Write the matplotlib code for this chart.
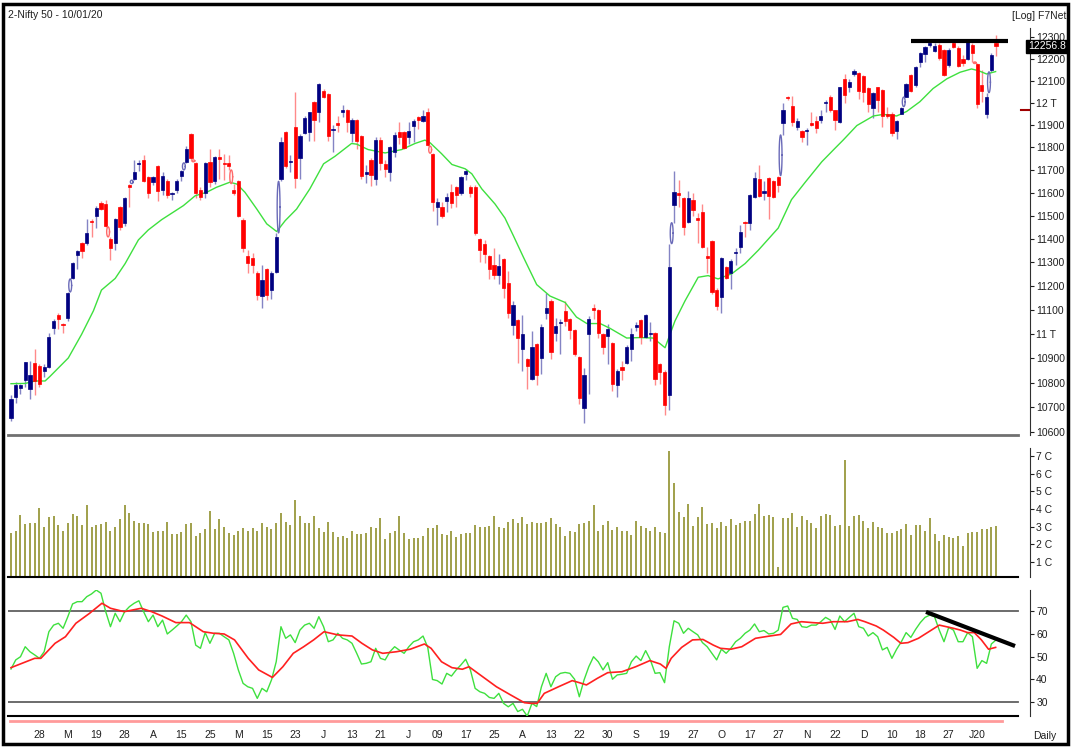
import numpy as np
import matplotlib
matplotlib.use("Agg")
import matplotlib.pyplot as plt
from matplotlib.patches import Rectangle
from matplotlib.ticker import NullLocator

plt.rcParams['font.family'] = ['Liberation Sans', 'DejaVu Sans']

# ---- daily candles, Nifty 50 (Feb 2019 - Jan 2020) ----
opens = [10658,10744,10780,10812,10776,10880,10867,10846,10863,11025,
         11079,11042,11067,11235,11331,11383,11383,11478,11500,11557,
         11552,11400,11383,11539,11470,11636,11660,11726,11744,11670,
         11647,11717,11614,11650,11596,11614,11675,11736,11860,11731,
         11612,11600,11736,11650,11758,11731,11731,11614,11650,11483,
         11326,11317,11257,11157,11274,11183,11261,11660,11870,11736,
         11890,11754,11865,11870,12004,11960,12051,12038,11877,11910,
         11960,11965,11865,11920,11851,11680,11745,11661,11833,11726,
         11689,11777,11870,11870,11847,11896,11937,11919,11960,11770,
         11539,11539,11565,11605,11623,11600,11684,11627,11627,11400,
         11378,11326,11287,11248,11313,11213,11037,11058,10937,10896,
         10817,10958,10900,11088,11137,11004,11046,11096,11063,11017,
         10904,10696,11000,11108,11100,11000,10992,10963,10792,10863,
         10880,10937,11029,11058,10988,11000,11004,10876,10842,10752,
         11546,11600,11578,11474,11570,11491,11518,11326,11391,11183,
         11153,11279,11257,11339,11365,11474,11470,11583,11661,11600,
         11666,11652,11670,11910,12025,11987,11892,11874,11874,11910,
         11919,11924,12000,12025,11965,11914,12105,12069,12130,12134,
         12121,12064,11978,12069,12056,11947,11951,11874,11951,12025,
         12125,12078,12186,12221,12265,12235,12265,12240,12172,12274,
         12250,12200,12198,12262,12175,12079,11950,12150,12272]
highs = [10752,10804,10796,10886,10888,10937,10876,10876,11004,11063,
         11088,11046,11175,11300,11352,11387,11487,11487,11543,11565,
         11570,11409,11491,11543,11583,11640,11744,11745,11767,11675,
         11675,11722,11689,11660,11605,11660,11700,11805,11865,11736,
         11623,11736,11791,11762,11791,11770,11766,11640,11657,11491,
         11352,11339,11265,11287,11278,11265,11426,11845,11874,11766,
         12048,11860,11942,11960,12008,12090,12060,12042,11900,11940,
         11990,11970,11933,11925,11856,11722,11754,11847,11847,11745,
         11805,11870,11914,11874,11914,11928,11942,11965,11978,11774,
         11578,11561,11600,11640,11628,11675,11706,11636,11636,11404,
         11396,11331,11361,11335,11317,11265,11137,11063,11079,10900,
         11012,10963,11042,11171,11145,11067,11063,11137,11067,11021,
         10908,10859,11075,11125,11104,11004,11042,10967,10855,10888,
         10954,11025,11050,11063,11084,11050,11008,10880,10850,11380,
         11696,11657,11583,11609,11600,11513,11552,11365,11396,11191,
         11322,11283,11313,11361,11461,11478,11596,11689,11722,11650,
         11670,11657,11675,12000,12030,12030,11933,11878,11887,11960,
         11942,11965,12013,12034,11969,12073,12130,12105,12152,12139,
         12125,12069,12046,12073,12060,11982,11956,11922,11982,12090,
         12130,12165,12230,12260,12275,12270,12270,12245,12250,12285,
         12258,12215,12290,12270,12178,12150,12045,12225,12311]
lows = [10646,10716,10756,10784,10732,10752,10784,10825,10859,11000,
        11021,11004,11054,11230,11274,11317,11374,11409,11448,11526,
        11452,11309,11352,11439,11457,11539,11655,11695,11645,11575,
        11636,11566,11591,11575,11570,11600,11650,11731,11744,11578,
        11570,11578,11627,11640,11661,11657,11700,11590,11496,11344,
        11253,11253,11141,11108,11141,11145,11257,11650,11708,11690,
        11620,11661,11860,11827,11827,11914,12021,11827,11780,11870,
        11935,11870,11822,11792,11661,11643,11630,11636,11700,11670,
        11650,11758,11814,11792,11814,11822,11883,11914,11805,11522,
        11461,11491,11517,11535,11539,11591,11657,11582,11417,11300,
        11296,11230,11230,11209,11150,11067,10996,10880,10846,10776,
        10812,10792,10837,11063,10896,10971,10917,11033,10980,10908,
        10712,10637,10756,11063,10984,10917,10875,10767,10744,10812,
        10876,10888,11012,10958,10984,10971,10792,10796,10670,10690,
        11470,11539,11417,11470,11500,11383,11361,11253,11167,11100,
        11088,11230,11187,11291,11339,11409,11439,11578,11583,11570,
        11487,11578,11605,11855,12013,11896,11878,11822,11809,11896,
        11865,11910,11960,11956,11878,11910,12000,12047,12121,12017,
        12004,11956,11933,11960,11892,11929,11851,11835,11947,12025,
        12047,12073,12160,12186,12256,12230,12195,12121,12160,12250,
        12160,12165,12195,12185,11975,12005,11929,12140,12213]
closes = [10736,10792,10792,10884,10833,10808,10796,10863,10988,11054,
          11063,11037,11171,11296,11348,11348,11426,11474,11535,11530,
          11457,11361,11487,11452,11578,11627,11690,11732,11652,11600,
          11670,11609,11675,11591,11600,11650,11697,11791,11754,11600,
          11580,11731,11645,11758,11748,11726,11718,11600,11500,11361,
          11296,11287,11161,11226,11161,11257,11409,11824,11717,11740,
          11665,11851,11933,11956,11924,12086,12025,11851,11882,11900,
          11965,11913,11924,11827,11675,11689,11676,11833,11731,11705,
          11800,11856,11847,11796,11874,11919,11924,11942,11809,11561,
          11561,11500,11583,11557,11591,11670,11697,11600,11426,11352,
          11335,11274,11248,11283,11191,11088,11120,10984,11000,10867,
          10946,10833,11029,11108,10925,11033,11050,11054,11017,10917,
          10740,10833,11060,11100,11004,10946,11021,10796,10846,10850,
          10946,11000,11037,10988,11079,11004,10817,10842,10708,11279,
          11604,11591,11452,11578,11526,11483,11365,11317,11175,11116,
          11317,11235,11305,11344,11430,11470,11591,11666,11587,11609,
          11587,11583,11632,11965,12020,11914,11918,11847,11878,11900,
          11887,11942,12004,11965,11920,12069,12034,12095,12143,12051,
          12047,11996,12042,12013,11938,11938,11865,11918,11978,12086,
          12051,12160,12225,12256,12270,12260,12205,12125,12240,12255,
          12168,12182,12275,12226,11995,12052,12025,12215,12257]

# volume in crores
volume = [2.62,2.77,3.66,3.15,3.23,3.23,4.04,2.96,3.53,3.60,
          3.09,2.77,3.23,3.72,3.60,3.09,4.23,2.96,3.09,3.15,
          3.28,2.77,2.96,3.42,4.23,3.79,3.34,3.23,3.23,3.15,
          2.72,2.77,2.77,3.28,2.59,2.59,2.72,3.15,3.23,2.47,
          2.62,2.85,3.91,2.85,3.42,2.96,2.66,2.53,2.77,2.91,
          2.77,2.91,2.77,3.23,2.96,2.85,3.23,3.79,3.28,3.09,
          4.51,3.60,3.23,3.23,3.60,2.91,2.72,3.28,2.72,2.40,
          2.47,2.34,2.77,2.59,2.59,2.66,2.96,2.91,3.47,2.28,
          2.66,2.77,3.60,2.66,2.28,2.34,2.34,2.47,2.91,2.91,
          3.09,2.59,2.53,2.77,2.40,2.59,2.62,2.62,3.09,2.96,
          2.96,3.04,3.60,2.96,2.91,3.28,3.42,3.23,3.53,3.15,
          3.28,3.23,3.19,3.28,3.47,3.15,2.96,2.47,2.77,2.72,
          3.15,3.23,3.34,4.23,2.77,3.09,3.34,2.81,2.96,2.77,
          2.77,2.53,3.34,3.04,2.91,2.77,3.00,2.72,2.66,7.28,
          5.49,3.85,3.53,4.28,3.04,3.53,4.09,3.15,3.23,2.91,
          3.28,3.04,3.42,3.09,3.23,3.34,3.34,3.72,4.28,3.60,
          3.66,3.53,0.74,3.47,3.47,3.79,2.96,3.60,3.38,3.23,
          2.91,3.60,3.72,3.66,3.04,3.09,6.77,3.04,3.60,3.66,
          3.34,2.91,3.28,2.96,2.91,2.66,2.66,2.77,2.85,3.15,
          2.53,3.09,3.09,2.77,3.47,2.59,2.21,2.53,2.43,2.34,
          2.47,1.91,2.66,2.72,2.72,2.85,2.85,2.96,3.04]

# RSI (green) and its signal (red)
rsi = [44.5,48.5,49.9,54.3,52.1,50.7,49.2,52.1,60.9,63.8,
       64.6,62.4,67.5,73.1,74.1,74.1,76.3,77.5,79.2,77.8,
       69.7,63.1,69.0,65.3,69.7,71.9,73.4,74.5,69.7,65.3,
       68.2,63.1,66.0,59.9,61.6,63.4,65.3,68.2,65.3,55.0,
       53.6,60.5,55.8,60.2,60.2,58.7,57.3,51.4,44.1,38.2,
       36.7,36.0,31.6,36.0,34.5,39.7,47.7,63.1,58.0,59.5,
       56.1,61.6,63.8,64.6,62.4,67.5,63.1,56.5,57.3,60.2,
       58.0,57.3,55.8,51.4,46.7,47.0,47.7,53.6,49.2,48.5,
       52.1,54.3,52.8,51.4,54.3,56.5,57.3,59.0,54.0,39.9,
       39.4,37.9,42.6,41.4,44.1,46.3,48.8,44.1,36.0,34.5,
       33.8,32.0,31.6,33.8,29.4,27.9,29.4,25.8,26.8,23.8,
       29.4,28.0,36.7,42.6,36.7,41.1,42.6,43.0,42.6,40.0,
       32.3,39.7,45.5,49.9,47.7,44.1,47.3,40.0,41.9,42.2,
       42.6,47.7,50.2,48.2,52.6,48.5,42.6,42.9,38.5,54.3,
       65.7,64.6,60.2,62.4,60.9,59.5,56.1,54.3,51.4,48.5,
       53.2,51.4,53.6,56.5,58.0,60.2,61.6,64.3,60.9,61.4,
       59.9,60.2,61.6,71.6,72.2,66.8,66.3,63.1,62.8,63.8,
       63.8,65.3,67.2,66.0,61.9,67.8,65.3,67.2,69.0,63.1,
       62.4,59.0,60.5,58.7,52.9,54.0,49.2,53.2,56.5,60.5,
       58.4,61.9,64.9,67.2,68.2,67.5,61.6,56.5,62.8,61.6,
       56.5,56.5,60.5,58.7,44.8,48.2,47.0,55.5,57.3]
sig_bar = [0,5.0,6.3,9.3,11.5,13.7,16.6,19.2,21.0,23.9,27.5,29.7,31.9,34.8,37.7,
           40.6,42.8,45.0,47.2,50.1,52.3,55.2,57.4,59.6,61.8,63.9,66.1,69.0,72.0,
           74.1,76.3,78.5,81.4,84.3,87.3,88.7,90.9,93.1,95.3,96.7,99.6,102.5,105.5,
           108.4,109.8,111.1,112.6,115.6,118.5,120.0,121.5,123.8,126.0,129.0,131.9,
           134.9,137.1,138.3,139.4,141.6,143.9,146.1,148.3,149.8,152.0,154.3,157.2,
           160.2,162.5,164.7,166.9,169.2,171.4,173.6,176.6,178.8,180.3,182.7,184.2,
           186.4,187.9,189.4,191.6,193.8,196.0,197.5,199.0,200.5,202.0,203.4,204.9,
           206.4,207.9]
sig_val = [45.1,49.2,49.2,55.8,58.7,64.6,69.0,73.4,71.2,69.7,71.2,69.7,67.8,64.9,64.9,
           60.9,60.2,59.9,57.3,49.2,44.1,40.8,45.5,51.4,54.3,57.3,60.9,59.5,59.0,
           55.8,52.9,51.4,52.1,53.2,55.5,53.6,47.7,45.1,44.4,45.5,41.1,36.7,33.1,
           29.7,29.4,29.4,33.8,36.7,39.4,38.5,37.5,40.4,42.9,43.3,45.5,48.2,46.7,
           44.8,49.2,54.0,57.3,57.5,55.0,53.6,53.2,54.3,58.0,59.0,59.7,64.3,65.3,
           64.9,64.6,65.3,65.3,66.3,65.3,63.4,61.6,58.4,55.8,56.1,58.0,60.9,63.8,
           63.1,62.4,61.6,60.5,60.5,57.3,53.2,54.0]

# moving average on price (green), read at points along the curve
ma_bar = [0,3.0,5.1,7.2,8.2,12.1,14.9,17.4,19.1,22.0,24.1,26.9,29.0,31.8,34.6,36.4,
          38.9,41.3,43.4,46.2,47.7,49.4,51.9,54.0,56.1,57.9,60.3,63.1,66.0,68.4,71.9,
          73.0,75.4,79.0,82.5,85.3,87.4,88.5,90.9,93.1,95.9,97.3,99.4,102.2,104.3,
          106.1,108.2,111.0,113.8,117.0,119.4,121.6,124.4,126.5,130.0,132.8,135.6,
          138.1,140.2,142.3,145.1,147.2,149.3,152.2,155.0,157.8,162.0,164.8,167.7,
          171.2,174.0,175.7,178.6,182.1,184.2,187.0,189.1,191.9,194.7,197.6,200.4,
          202.8,204.3,206.0,207.9]
ma_val = [10796,10797,10807,10807,10825,10901,10998,11096,11183,11232,11295,11396,
          11439,11483,11520,11544,11587,11602,11624,11646,11638,11602,11529,11465,
          11432,11479,11529,11617,11727,11760,11817,11814,11790,11775,11790,11817,
          11832,11820,11772,11724,11705,11683,11617,11551,11490,11413,11322,11206,
          11158,11131,11070,11043,11043,11023,10983,10985,10983,10943,11054,11137,
          11237,11244,11230,11252,11295,11352,11447,11570,11646,11736,11796,11832,
          11897,11940,11947,11940,11960,12004,12064,12108,12138,12153,12145,12130,
          12141]

gap_up = [13, 26, 37, 57, 140, 163, 189, 207]
gap_dn = [21, 39, 47, 89, 204]

price_ticks = [10600,10700,10800,10900,11000,11100,11200,11300,11400,11500,
               11600,11700,11800,11900,12000,12100,12200,12300]
price_labels = ['10600','10700','10800','10900','11 T','11100','11200','11300','11400',
                '11500','11600','11700','11800','11900','12 T','12100','12200','12300']
date_labels = ['28','M','19','28','A','15','25','M','15','23','J','13','21','J','09',
               '17','25','A','13','22','30','S','19','27','O','17','27','N','22','D',
               '10','18','27','J20']
date_bars = list(range(6, 205, 6))

resist_level = 12281
rsi_trend = ([193.2, 212.0], [69.6, 54.6])

# ---------------------------------------------------------------
W, H = 1077, 747
fig = plt.figure(figsize=(W / 100, H / 100), dpi=100)
fig.patch.set_facecolor('white')

def px_axes(x0, y0, x1, y1):
    return fig.add_axes([x0 / W, 1 - y1 / H, (x1 - x0) / W, (y1 - y0) / H])

AX_R = 1030
xlo, xhi = (8 - 11) / 4.736, (AX_R - 11) / 4.736
xend = (1018 - 11) / 4.736

def style(ax):
    ax.set_xlim(xlo, xhi)
    for s in ['top', 'left', 'bottom']:
        ax.spines[s].set_visible(False)
    ax.spines['right'].set_color('#303030')
    ax.yaxis.tick_right()
    ax.tick_params(axis='y', direction='out', length=3, width=0.8, labelsize=7.5,
                   pad=1.5, colors='#202020')
    ax.set_xticks([])
    ax.set_facecolor('white')

n = len(closes)
idx = np.arange(n)
o, h, l, c = map(np.array, (opens, highs, lows, closes))
up = c >= o

# price panel
ax_p = px_axes(8, 28, AX_R, 435)
style(ax_p)
ax_p.set_yscale('log')
plo, phi = 10589.6, 12341.7
ax_p.set_ylim(plo, phi)
ax_p.set_yticks(price_ticks)
ax_p.set_yticklabels(price_labels)
ax_p.yaxis.set_minor_locator(NullLocator())

ax_p.vlines(idx[up], l[up], h[up], color='#8484c4', lw=1)
ax_p.vlines(idx[~up], l[~up], h[~up], color='#ff8a8a', lw=1)
ax_p.plot(ma_bar, ma_val, color='#3ee03e', lw=1)
body_lo = np.minimum(o, c)
body_h = np.maximum(np.abs(c - o), 1.0)
ax_p.bar(idx[up], body_h[up], bottom=body_lo[up], width=0.68, color='#000080',
         edgecolor='#000080', lw=0.5, zorder=3)
ax_p.bar(idx[~up], body_h[~up], bottom=body_lo[~up], width=0.68, color='#ff0000',
         edgecolor='#ff0000', lw=0.5, zorder=3)

t = np.linspace(0, 2 * np.pi, 40)
for i in gap_up + gap_dn:
    if i in gap_up:
        y1, y2, col = h[i - 1], l[i], '#6a6ab8'
    else:
        y1, y2, col = l[i - 1], h[i], '#ff6a6a'
    a, b = np.log(y1), np.log(y2)
    ax_p.plot(i - 0.5 + 0.3 * np.cos(t), np.exp((a + b) / 2 + (b - a) / 2 * np.sin(t)),
              color=col, lw=1, zorder=4)

ax_p.plot([190, 210.5], [resist_level] * 2, color='black', lw=3, solid_capstyle='butt',
          zorder=5)
ax_p.plot([xlo, xend], [plo, plo], color='#707070', lw=2, clip_on=False)
ax_p.plot([213.3, 215.0], [11966, 11966], color='#a00000', lw=1.5, clip_on=False)
ax_p.text(0.998, closes[-1], '%.1f' % 12256.8, transform=ax_p.get_yaxis_transform(),
          ha='left', va='center', fontsize=7.5, color='white', zorder=10, clip_on=False,
          bbox=dict(boxstyle='square,pad=0.15', fc='black', ec='black'))

# volume panel
ax_v = px_axes(8, 448, AX_R, 577)
style(ax_v)
vlo = 0.153
ax_v.set_ylim(vlo, 7.45)
ax_v.set_yticks(range(1, 8))
ax_v.set_yticklabels(['%d C' % k for k in range(1, 8)])
ax_v.vlines(idx, vlo, volume, color='#86861a', lw=1.1)
ax_v.plot([xlo, xend], [vlo, vlo], color='black', lw=1.5, clip_on=False)

# RSI panel
ax_r = px_axes(8, 590, AX_R, 716)
style(ax_r)
rlo = 23.85
ax_r.set_ylim(rlo, 79.23)
ax_r.set_yticks([30, 40, 50, 60, 70])
for lv in (70, 30):
    ax_r.plot([xlo, xend], [lv, lv], color='#606060', lw=1.3)
ax_r.plot([xlo, xend], [rlo, rlo], color='black', lw=1.5, clip_on=False)
ax_r.plot([-0.2, 209.2], [21.5, 21.5], color='#ff9a9a', lw=2, clip_on=False)
ax_r.plot(idx, rsi, color='#3ee03e', lw=1)
ax_r.plot(sig_bar, sig_val, color='#ff2020', lw=1.2)
ax_r.plot(rsi_trend[0], rsi_trend[1], color='black', lw=3, solid_capstyle='butt',
          clip_on=False)
ax_r.set_xticks(date_bars)
ax_r.set_xticklabels(date_labels)
ax_r.tick_params(axis='x', length=0, pad=10, labelsize=7.5, colors='#202020')

fig.text(8 / W, 1 - 15 / H, '2-Nifty 50 - 10/01/20', va='center', fontsize=7.5,
         color='#202020')
fig.text(1066 / W, 1 - 16 / H, '[Log] F7Net', va='center', ha='right', fontsize=7.5,
         color='#202020')
fig.text(1033 / W, 1 - 736 / H, 'Daily', va='center', fontsize=7.5, color='#202020')

fig.patches.append(Rectangle((3 / W, 1 - 744 / H), 1065 / W, 740 / H,
                             transform=fig.transFigure, fill=False, lw=2.5,
                             ec='black'))

fig.savefig('out.png', dpi=100)
